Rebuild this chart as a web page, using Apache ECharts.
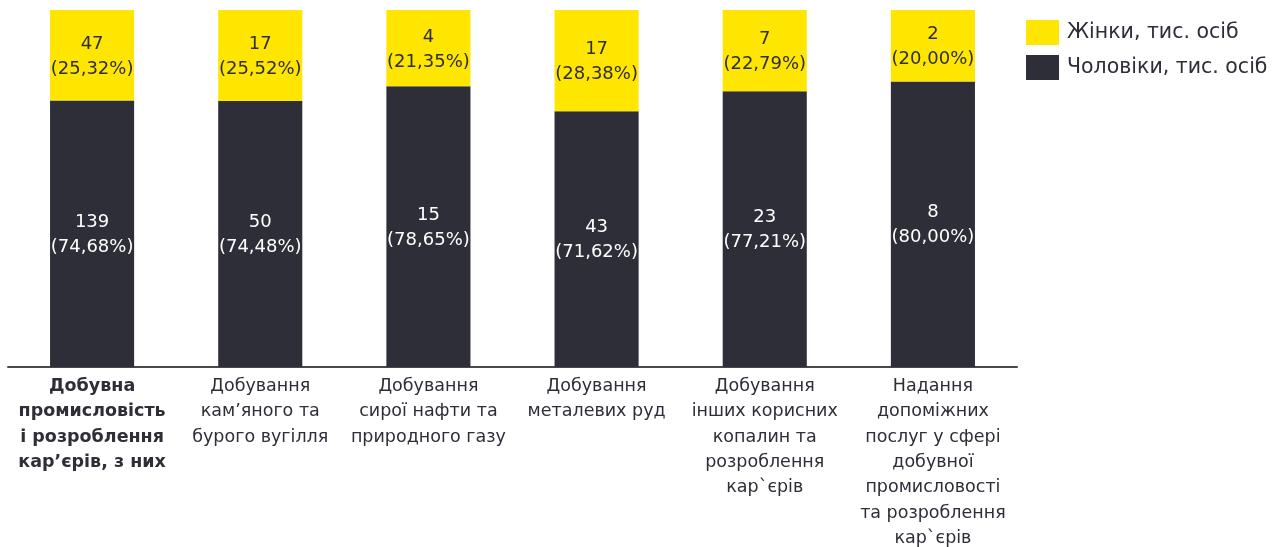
<!DOCTYPE html>
<html>
<head>
<meta charset="utf-8">
<script src="https://cdn.jsdelivr.net/npm/echarts@6/dist/echarts.min.js"></script>
<style>
  html, body { margin: 0; padding: 0; background: #ffffff; }
  #chart { width: 1284px; height: 547px; }
</style>
</head>
<body>
<div id="chart"></div>
<script>
// Sectors of mining industry
const categories = [
  'Добувна\nпромисловість\nі розроблення\nкар’єрів, з них',
  'Добування\nкам’яного та\nбурого вугілля',
  'Добування\nсирої нафти та\nприродного газу',
  'Добування\nметалевих руд',
  'Добування\nінших корисних\nкопалин та\nрозроблення\nкар`єрів',
  'Надання\nдопоміжних\nпослуг у сфері\nдобувної\nпромисловості\nта розроблення\nкар`єрів'
];

// Headcount, thousand persons
const menCount = [139, 50, 15, 43, 23, 8];
const womenCount = [47, 17, 4, 17, 7, 2];

// Shares, %
const menShare = [74.68, 74.48, 78.65, 71.62, 77.21, 80.00];
const womenShare = [25.32, 25.52, 21.35, 28.38, 22.79, 20.00];

const seriesNames = ['Жінки, тис. осіб', 'Чоловіки, тис. осіб'];

const YELLOW = '#FFE600';
const DARK = '#2E2E38';
const FONT = "'DejaVu Sans', Verdana, sans-serif";

const fmtPct = v => v.toFixed(2).replace('.', ',') + '%';

const chart = echarts.init(document.getElementById('chart'));
chart.setOption({
  animation: false,
  textStyle: { fontFamily: FONT },
  grid: { left: 8, right: 267, top: 10, bottom: 180, containLabel: false, outerBoundsMode: 'none' },
  legend: {
    orient: 'vertical',
    left: 1021,
    top: 15,
    itemWidth: 33,
    itemHeight: 25,
    itemGap: 10,
    icon: 'rect',
    data: [seriesNames[0], seriesNames[1]],
    textStyle: { fontFamily: FONT, fontSize: 20.5, color: DARK, padding: [0, 0, 0, 3] }
  },
  xAxis: {
    type: 'category',
    data: categories,
    axisLine: { show: true, lineStyle: { color: '#48484f', width: 2 } },
    axisTick: { show: false },
    axisLabel: {
      interval: 0,
      margin: 7,
      color: DARK,
      fontFamily: FONT,
      fontSize: 17.5,
      lineHeight: 25.3,
      formatter: (v, i) => i === 0 ? '{b|' + v.split('\n').join('}\n{b|') + '}' : v,
      rich: {
        b: { fontWeight: 'bold', fontSize: 17.5, lineHeight: 25.3, color: DARK, fontFamily: FONT }
      }
    }
  },
  yAxis: {
    type: 'value',
    min: 0,
    max: 100,
    show: false,
    splitLine: { show: false }
  },
  series: [
    {
      name: seriesNames[1],
      type: 'bar',
      stack: 'total',
      barWidth: '50%',
      data: menShare,
      itemStyle: { color: DARK },
      label: {
        show: true,
        position: 'inside',
        offset: [0, 1],
        color: '#ffffff',
        fontFamily: FONT,
        fontSize: 18,
        lineHeight: 25,
        formatter: p => menCount[p.dataIndex] + '\n(' + fmtPct(p.value) + ')'
      }
    },
    {
      name: seriesNames[0],
      type: 'bar',
      stack: 'total',
      barWidth: '50%',
      data: womenShare,
      itemStyle: { color: YELLOW },
      label: {
        show: true,
        position: 'inside',
        offset: [0, 1.5],
        color: DARK,
        fontFamily: FONT,
        fontSize: 18,
        lineHeight: 25,
        formatter: p => womenCount[p.dataIndex] + '\n(' + fmtPct(p.value) + ')'
      }
    }
  ]
});
</script>
</body>
</html>
